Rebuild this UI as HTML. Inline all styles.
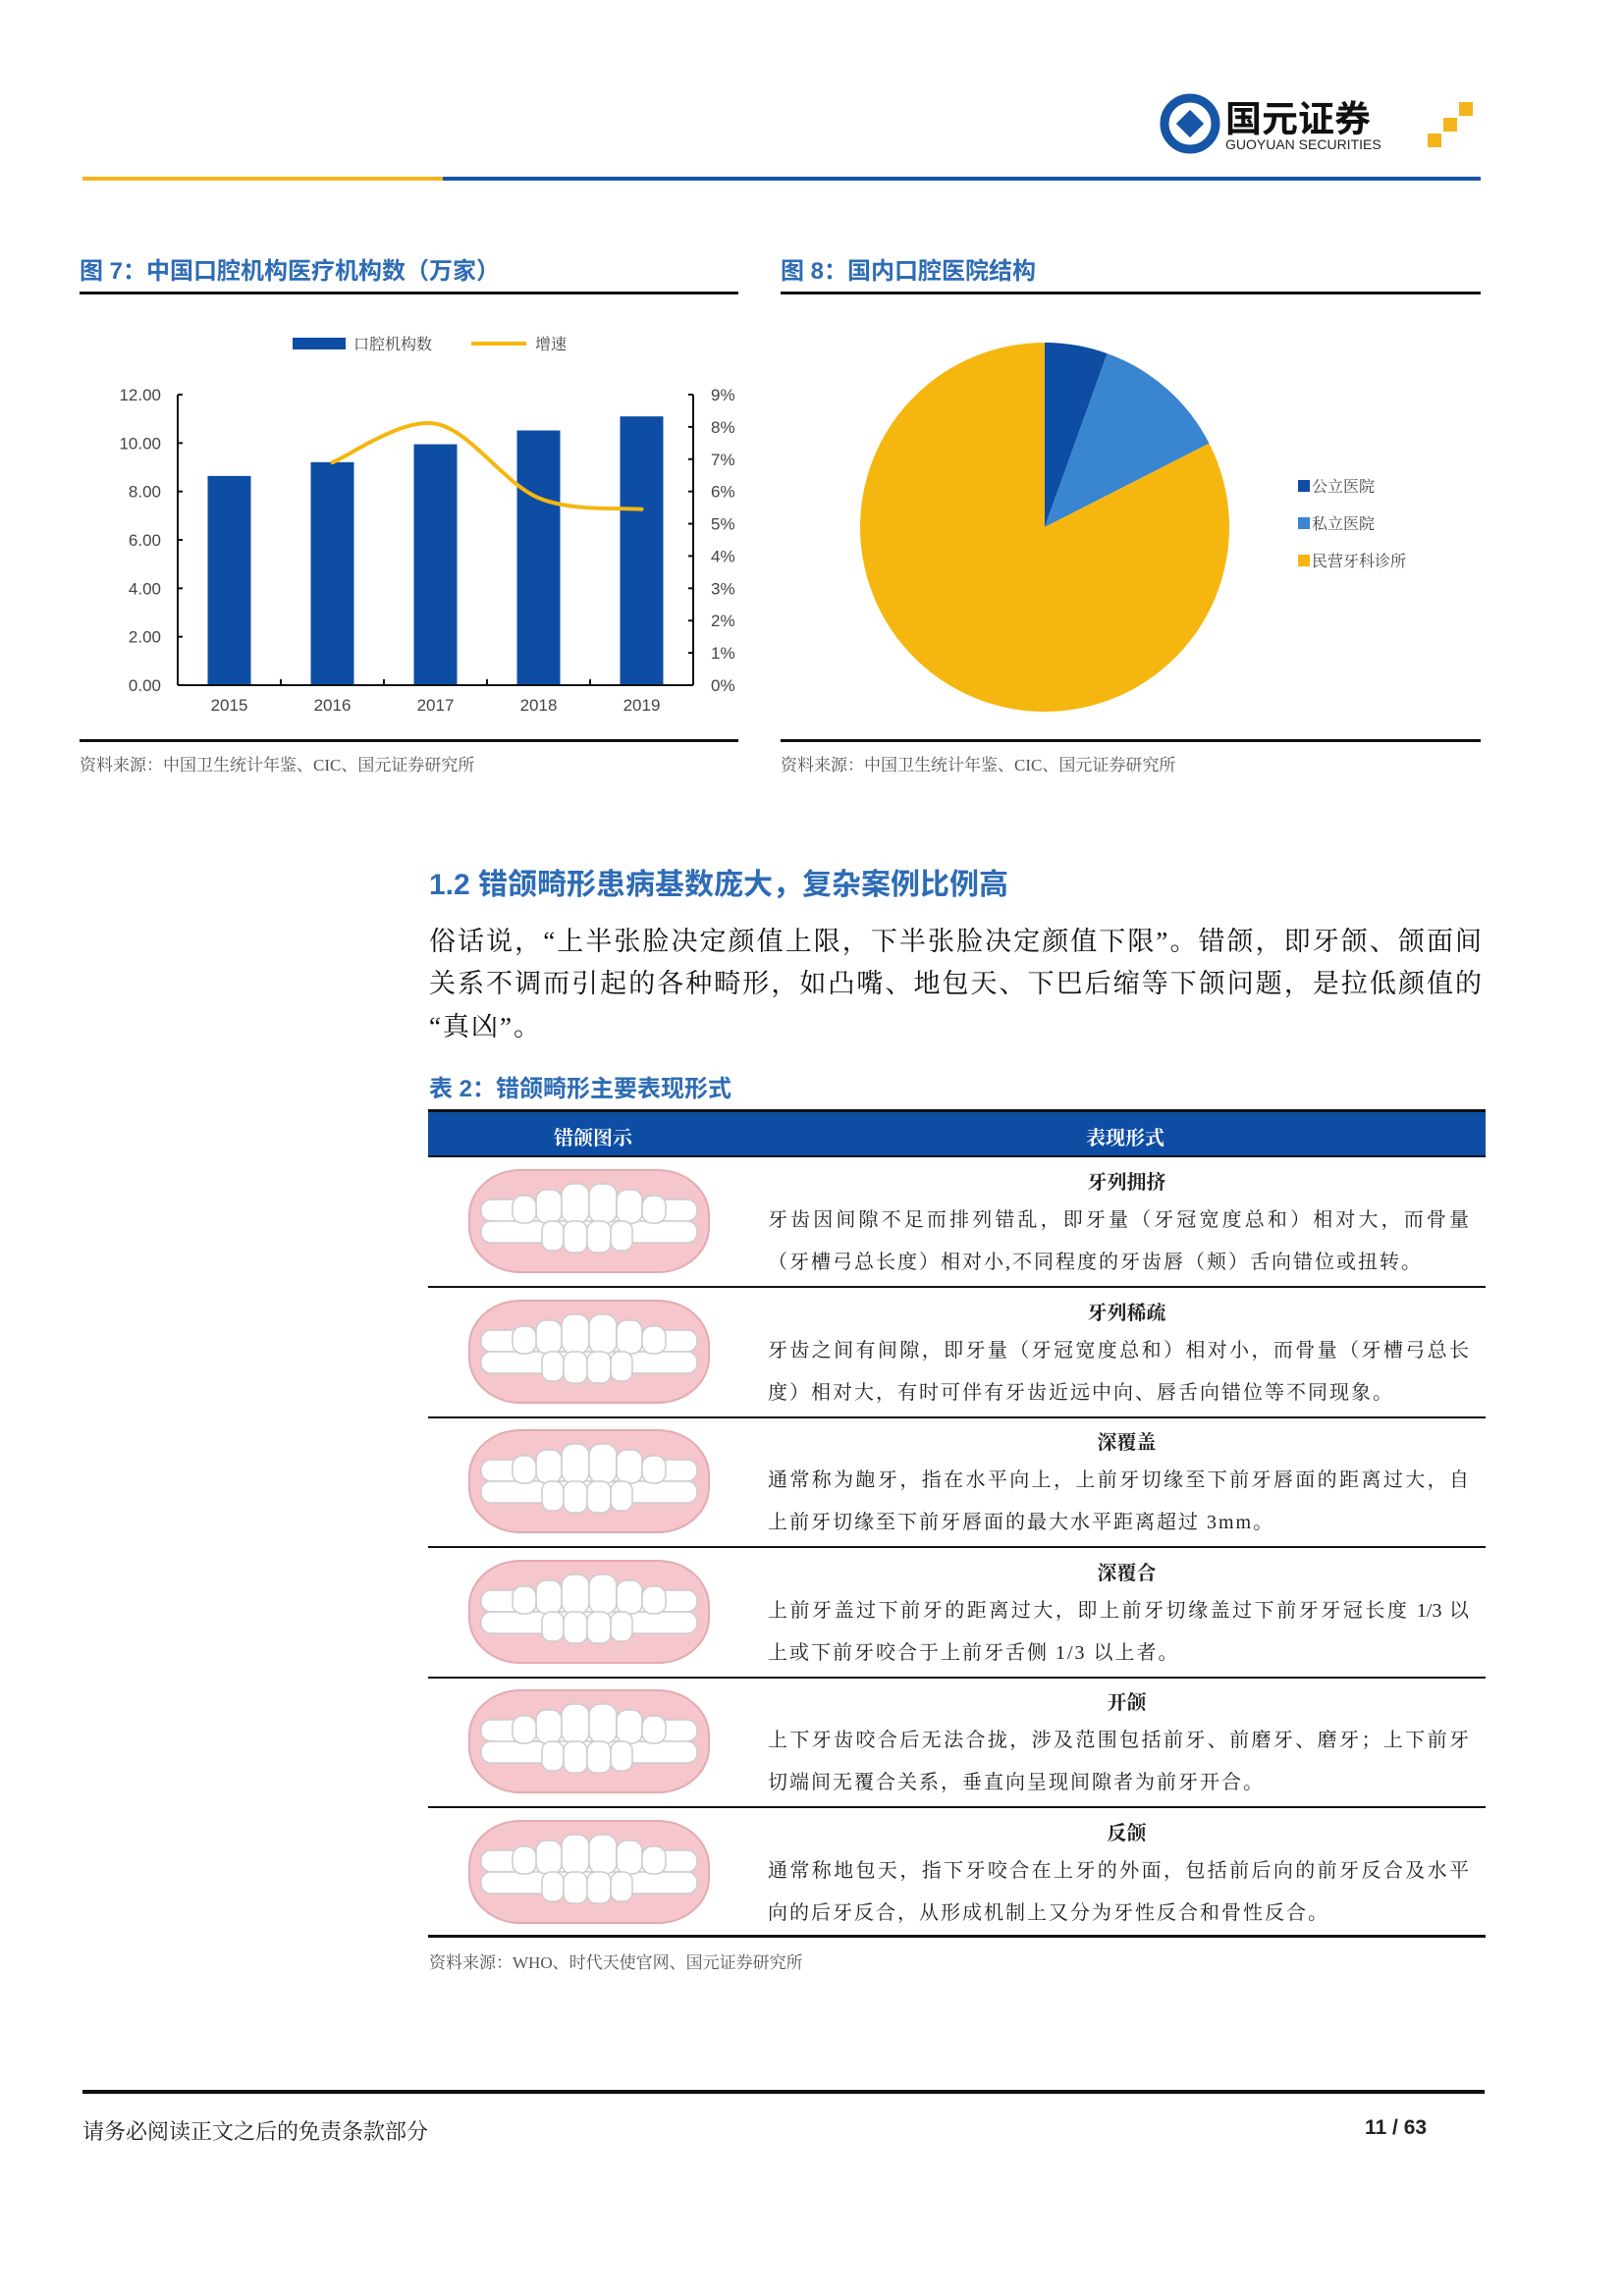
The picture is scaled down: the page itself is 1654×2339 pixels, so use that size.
<!DOCTYPE html>
<html><head><meta charset="utf-8">
<style>
body{margin:0;background:#fff;}
#page{position:relative;width:1654px;height:2339px;overflow:hidden;font-family:"Liberation Sans","Noto Sans CJK SC",sans-serif;color:#222;}
.abs{position:absolute;white-space:nowrap;}
.ft{font-family:"Liberation Serif","Noto Serif CJK SC",serif;}
.blue{color:#2E6CB5;font-weight:bold;}
.src{font-size:17px;color:#555;}
.pl{position:absolute;left:437px;width:1072px;font-size:27px;height:43px;line-height:43px;text-align:justify;text-align-last:justify;font-family:"Liberation Serif","Noto Serif CJK SC",serif;color:#111;white-space:nowrap;}
.pl.last{text-align-last:left;letter-spacing:2px;}
.row-title{position:absolute;left:782px;width:731px;text-align:center;font-weight:bold;font-size:20px;font-family:"Liberation Serif","Noto Serif CJK SC",serif;}
.rl{position:absolute;left:782px;width:714px;font-size:20px;line-height:43px;text-align:justify;text-align-last:justify;white-space:nowrap;font-family:"Liberation Serif","Noto Serif CJK SC",serif;}
.rl.last{text-align-last:left;letter-spacing:2px;}
.hl{position:absolute;left:436px;width:1077px;height:2px;background:#111;}
</style></head><body>
<div id="page">

<!-- header -->
<svg class="abs" style="left:1180px;top:90px" width="330" height="70">
  <circle cx="32" cy="36" r="26" fill="none" stroke="#1656A6" stroke-width="9"/>
  <rect x="22" y="26" width="20" height="20" fill="#1656A6" transform="rotate(45 32 36)"/>
  <text x="68" y="44" font-size="37" font-weight="bold" fill="#111" font-family="Liberation Sans, Noto Sans CJK SC, sans-serif">国元证券</text>
  <text x="68" y="62" font-size="14" fill="#222" font-family="Liberation Sans, sans-serif">GUOYUAN SECURITIES</text>
  <rect x="274" y="46" width="14" height="14" fill="#F3B51B"/>
  <rect x="290" y="30" width="14" height="14" fill="#F3B51B"/>
  <rect x="306" y="14" width="14" height="14" fill="#F3B51B"/>
</svg>
<div class="abs" style="left:84px;top:180px;width:367px;height:4px;background:#F3B51B"></div>
<div class="abs" style="left:451px;top:180px;width:1057px;height:4px;background:#1656A6"></div>

<!-- figure titles -->
<div class="abs blue" style="left:81px;top:256px;font-size:24px">图 7：中国口腔机构医疗机构数（万家）</div>
<div class="abs blue" style="left:795px;top:256px;font-size:24px">图 8：国内口腔医院结构</div>
<div class="abs" style="left:81px;top:297px;width:671px;height:3px;background:#111"></div>
<div class="abs" style="left:795px;top:297px;width:713px;height:3px;background:#111"></div>
<div class="abs" style="left:81px;top:753px;width:671px;height:3px;background:#111"></div>
<div class="abs" style="left:795px;top:753px;width:713px;height:3px;background:#111"></div>
<div class="abs src ft" style="left:81px;top:765px">资料来源：中国卫生统计年鉴、CIC、国元证券研究所</div>
<div class="abs src ft" style="left:795px;top:765px">资料来源：中国卫生统计年鉴、CIC、国元证券研究所</div>

<!-- chart 1 -->
<svg id="chart1" class="abs" style="left:0;top:-3px" width="800" height="760"></svg>
<!-- chart 2 -->
<svg id="chart2" class="abs" style="left:780px;top:300px" width="730" height="450"></svg>

<!-- section -->
<div class="abs blue" style="left:437px;top:876px;font-size:30px">1.2 错颌畸形患病基数庞大，复杂案例比例高</div>
<div>
<div class="pl" style="top:938px">俗话说，“上半张脸决定颜值上限，下半张脸决定颜值下限”。错颌，即牙颌、颌面间</div>
<div class="pl" style="top:981px">关系不调而引起的各种畸形，如凸嘴、地包天、下巴后缩等下颌问题，是拉低颜值的</div>
<div class="pl last" style="top:1025px">“真凶”。</div>
</div>
<div class="abs blue" style="left:437px;top:1089px;font-size:24px">表 2：错颌畸形主要表现形式</div>

<!-- table -->
<div class="abs" style="left:436px;top:1130px;width:1077px;height:3px;background:#111"></div>
<div class="abs" style="left:436px;top:1133px;width:1077px;height:45px;background:#0E4DA4"></div>
<div class="abs ft" style="left:564px;top:1143px;font-size:20px;color:#fff;font-weight:bold">错颌图示</div>
<div class="abs ft" style="left:1106px;top:1143px;font-size:20px;color:#fff;font-weight:bold">表现形式</div>
<div class="hl" style="top:1177px"></div>

<svg width="0" height="0" style="position:absolute">
 <defs>
  <g id="teeth">
   <rect x="6" y="4" width="244" height="104" rx="52" ry="46" fill="#F5C6CC" stroke="#e3aab2" stroke-width="2"/>
   <g fill="#fff" stroke="#ccc" stroke-width="1.5">
    <rect x="18" y="34" width="220" height="22" rx="10"/>
    <rect x="18" y="56" width="220" height="22" rx="10"/>
    <rect x="74" y="24" width="26" height="34" rx="10"/>
    <rect x="100" y="18" width="28" height="40" rx="11"/>
    <rect x="128" y="18" width="28" height="40" rx="11"/>
    <rect x="156" y="24" width="26" height="34" rx="10"/>
    <rect x="50" y="30" width="24" height="28" rx="10"/>
    <rect x="182" y="30" width="24" height="28" rx="10"/>
    <rect x="80" y="56" width="22" height="30" rx="9"/>
    <rect x="102" y="56" width="24" height="32" rx="9"/>
    <rect x="126" y="56" width="24" height="32" rx="9"/>
    <rect x="150" y="56" width="22" height="30" rx="9"/>
   </g>
  </g>
 </defs>
</svg>

<div class="hl" style="top:1971px;height:3px"></div>
<div class="abs src ft" style="left:437px;top:1985px">资料来源：WHO、时代天使官网、国元证券研究所</div>

<!-- footer -->
<div class="abs" style="left:84px;top:2129px;width:1428px;height:4px;background:#111"></div>
<div class="abs ft" style="left:84px;top:2155px;font-size:22px">请务必阅读正文之后的免责条款部分</div>
<div class="abs" style="left:1390px;top:2156px;font-size:21px;font-weight:bold">11 / 63</div>
</div>

<script>
// ---------- chart 1 data ----------
const years = ["2015","2016","2017","2018","2019"];
const clinicCounts = [8.64, 9.21, 9.95, 10.52, 11.1];
const growthYears = ["2016","2017","2018","2019"];
const growthRates = [6.9, 8.1, 5.8, 5.45];
const leftTicks = ["0.00","2.00","4.00","6.00","8.00","10.00","12.00"];
const rightTicks = ["0%","1%","2%","3%","4%","5%","6%","7%","8%","9%"];
// ---------- chart 2 data ----------
const pieLabels = ["公立医院","私立医院","民营牙科诊所"];
const pieValues = [5.5, 12.0, 82.5];
const pieColors = ["#0E4DA4","#3A85D0","#F5B70F"];

const NS="http://www.w3.org/2000/svg";
function mk(svg,tag,attrs){const e=document.createElementNS(NS,tag);for(const k in attrs)e.setAttribute(k,attrs[k]);svg.appendChild(e);return e;}

(function(){
 const s=document.getElementById('chart1');
 const X0=181,X1=706,Y0=701,Y1=405;
 const yL=v=>Y0-(v/12)*(Y0-Y1);
 const yR=v=>Y0-(v/9)*(Y0-Y1);
 const band=(X1-X0)/years.length;
 const xC=i=>X0+band*(i+0.5);
 clinicCounts.forEach((v,i)=>{
  const r=mk(s,'rect',{x:xC(i)-22,y:yL(v),width:44,height:Y0-yL(v),fill:'#0E4DA4'});
  
  
 });
 mk(s,'line',{x1:X0,y1:Y1,x2:X0,y2:Y0,stroke:'#111','stroke-width':2});
 mk(s,'line',{x1:X1,y1:Y1,x2:X1,y2:Y0,stroke:'#111','stroke-width':2});
 mk(s,'line',{x1:X0,y1:Y0,x2:X1,y2:Y0,stroke:'#111','stroke-width':2});
 leftTicks.forEach(t=>{const v=parseFloat(t),y=yL(v);
  mk(s,'line',{x1:X0,y1:y,x2:X0+5,y2:y,stroke:'#111','stroke-width':2});
  const tx=mk(s,'text',{x:164,y:y+6,'text-anchor':'end','font-size':17,fill:'#444','font-family':'Liberation Sans, sans-serif'});tx.textContent=t;
  });
 rightTicks.forEach(t=>{const v=parseFloat(t),y=yR(v);
  mk(s,'line',{x1:X1-5,y1:y,x2:X1,y2:y,stroke:'#111','stroke-width':2});
  const tx=mk(s,'text',{x:724,y:y+6,'font-size':17,fill:'#444','font-family':'Liberation Sans, sans-serif'});tx.textContent=t;
  });
 years.forEach((t,i)=>{
  if(i>0) mk(s,'line',{x1:X0+band*i,y1:Y0-6,x2:X0+band*i,y2:Y0,stroke:'#111','stroke-width':2});
  const tx=mk(s,'text',{x:xC(i),y:727,'text-anchor':'middle','font-size':17,fill:'#444','font-family':'Liberation Sans, sans-serif'});tx.textContent=t;
  });
 const pts=growthYears.map((y,i)=>[xC(years.indexOf(y)),yR(growthRates[i])]);
 let d='M'+pts[0][0]+','+pts[0][1];
 for(let i=0;i<pts.length-1;i++){
  const p0=pts[Math.max(0,i-1)],p1=pts[i],p2=pts[i+1],p3=pts[Math.min(pts.length-1,i+2)];
  const c1=[p1[0]+(p2[0]-p0[0])/6,p1[1]+(p2[1]-p0[1])/6],c2=[p2[0]-(p3[0]-p1[0])/6,p2[1]-(p3[1]-p1[1])/6];
  d+=' C'+c1+' '+c2+' '+p2;
 }
 const ln=mk(s,'path',{d:d,fill:'none',stroke:'#F5B70F','stroke-width':4,'stroke-linecap':'round'});
 
 const lr=mk(s,'rect',{x:298,y:347,width:54,height:12,fill:'#0E4DA4'});
 
 const lt=mk(s,'text',{x:360,y:359,'font-size':16,fill:'#444','font-family':'Liberation Serif, Noto Serif CJK SC, serif'});lt.textContent='口腔机构数';
 
 const ll=mk(s,'line',{x1:480,y1:353,x2:536,y2:353,stroke:'#F5B70F','stroke-width':4});
 
 const lt2=mk(s,'text',{x:545,y:359,'font-size':16,fill:'#444','font-family':'Liberation Serif, Noto Serif CJK SC, serif'});lt2.textContent='增速';
 
})();

(function(){
 const s=document.getElementById('chart2');
 const cx=284,cy=237,rx=188,ry=188;
 const total=pieValues.reduce((a,b)=>a+b,0);
 let a0=0;
 pieValues.forEach((v,i)=>{
  const a1=a0+v/total*2*Math.PI;
  const x0=cx+rx*Math.sin(a0),y0=cy-ry*Math.cos(a0),x1=cx+rx*Math.sin(a1),y1=cy-ry*Math.cos(a1);
  const large=(a1-a0)>Math.PI?1:0;
  const p=mk(s,'path',{d:`M${cx},${cy} L${x0},${y0} A${rx},${ry} 0 ${large} 1 ${x1},${y1} Z`,fill:pieColors[i]});
  
  a0=a1;
 });
 pieLabels.forEach((t,i)=>{
  const y=189+i*38;
  const r=mk(s,'rect',{x:542,y:y,width:12,height:12,fill:pieColors[i]});
  
  const tx=mk(s,'text',{x:556,y:y+12,'font-size':16,fill:'#444','font-family':'Liberation Serif, Noto Serif CJK SC, serif'});tx.textContent=t;
  
 });
})();

// table rows
const rowTitles=["牙列拥挤","牙列稀疏","深覆盖","深覆合","开颌","反颌"];
const rowLines=[
["牙齿因间隙不足而排列错乱，即牙量（牙冠宽度总和）相对大，而骨量","（牙槽弓总长度）相对小,不同程度的牙齿唇（颊）舌向错位或扭转。"],
["牙齿之间有间隙，即牙量（牙冠宽度总和）相对小，而骨量（牙槽弓总长","度）相对大，有时可伴有牙齿近远中向、唇舌向错位等不同现象。"],
["通常称为龅牙，指在水平向上，上前牙切缘至下前牙唇面的距离过大，自","上前牙切缘至下前牙唇面的最大水平距离超过 3mm。"],
["上前牙盖过下前牙的距离过大，即上前牙切缘盖过下前牙牙冠长度 1/3 以","上或下前牙咬合于上前牙舌侧 1/3 以上者。"],
["上下牙齿咬合后无法合拢，涉及范围包括前牙、前磨牙、磨牙；上下前牙","切端间无覆合关系，垂直向呈现间隙者为前牙开合。"],
["通常称地包天，指下牙咬合在上牙的外面，包括前后向的前牙反合及水平","向的后牙反合，从形成机制上又分为牙性反合和骨性反合。"]];
const page=document.getElementById('page');
rowTitles.forEach((t,i)=>{
 const top=1178+i*132.5;
 const h=document.createElement('div');h.className='row-title';h.style.top=(top+10)+'px';h.textContent=t;
 
 
 page.appendChild(h);
 rowLines[i].forEach((ln,j)=>{
  const p=document.createElement('div');p.className='rl'+(j===1?' last':'');p.style.top=(top+44+j*43)+'px';p.textContent=ln;
  
  
  page.appendChild(p);
 });
 const sv=document.createElementNS(NS,'svg');sv.setAttribute('width','260');sv.setAttribute('height','115');
 sv.setAttribute('style','position:absolute;left:472px;top:'+(top+10)+'px');
 
 
 const u=document.createElementNS(NS,'use');u.setAttribute('href','#teeth');sv.appendChild(u);
 page.appendChild(sv);
 if(i<5){const l=document.createElement('div');l.className='hl';l.style.top=(top+132)+'px';
  
  
  page.appendChild(l);}
});
</script>
</body></html>
